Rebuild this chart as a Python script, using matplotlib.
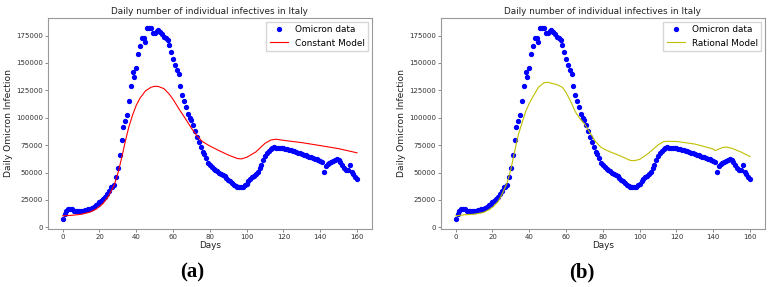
import matplotlib
matplotlib.use('Agg')
import matplotlib.pyplot as plt

# observed daily infections, day 0..160
days = list(range(161))
omicron = [
    7600, 12500, 14500, 16300, 16800, 16500, 14500, 14600, 14800, 15300,
    15000, 15200, 15500, 16000, 16500, 17000, 17800, 18500, 20000, 21500,
    23000, 24000, 25500, 27500, 30000, 33000, 36500, 36800, 38500, 45600,
    54500, 66000, 79700, 91900, 97400, 102500, 115600, 129000, 142100, 137000,
    145000, 158000, 165500, 172500, 173000, 169000, 182000, 181500, 181500, 177000,
    177700, 179000, 180000, 178000, 176000, 174000, 173000, 171000, 166000, 160000,
    154000, 148500, 144000, 140000, 129000, 121000, 115000, 109500, 103500, 100000,
    97500, 93000, 87500, 82000, 78000, 73500, 69000, 66500, 63000, 59000,
    56500, 55000, 53000, 52000, 51000, 50000, 49000, 47800, 46500, 45000,
    43500, 42000, 40500, 39000, 38000, 37000, 36500, 36500, 37000, 38500,
    40000, 42000, 44000, 45800, 47300, 48500, 50200, 53900, 57200, 61200,
    65400, 68200, 70000, 71500, 72500, 73000, 72800, 72700, 72500, 72300,
    72100, 71800, 71500, 71000, 70500, 70000, 69400, 68800, 68200, 67600,
    67000, 66400, 65700, 65100, 64500, 63900, 63300, 62700, 62100, 61200,
    60300, 59300, 50500, 56000, 57500, 59000, 59800, 60300, 61200, 62000,
    61200, 59600, 57200, 54500, 52600, 52000, 56600, 50800, 48700, 46300,
    43800,
]

# constant model curve
const_days = [0, 5, 10, 15, 18, 20, 22, 25, 28, 30, 32, 34, 36, 38, 40, 42, 45, 48, 50,
              52, 55, 58, 60, 63, 66, 70, 73, 76, 80, 85, 90, 95, 97, 100, 105, 110,
              113, 116, 120, 130, 140, 150, 160]
const_model = [10500, 11000, 11900, 14000, 16500, 18900, 21900, 28600, 38600, 49300,
               63000, 78200, 91900, 102500, 111400, 117800, 124500, 127800, 128700,
               128500, 126600, 121400, 116800, 108600, 101000, 90400, 83400, 78200,
               74200, 70000, 66000, 62800, 62400, 63900, 68800, 76700, 79600, 80400,
               79400, 77300, 74600, 71800, 68000]

# rational model curve
rat_days = [0, 5, 10, 15, 18, 20, 23, 25, 28, 30, 32, 34, 36, 38, 40, 42, 45, 48, 50,
            52, 55, 58, 60, 63, 65, 67, 70, 73, 76, 79, 82, 85, 90, 95, 97, 100, 105,
            110, 113, 115, 120, 130, 140, 141, 145, 147, 150, 155, 160]
rat_model = [10500, 11500, 12000, 13500, 16000, 18300, 23400, 29500, 40800, 53000,
             69000, 84300, 95000, 105600, 113200, 119300, 127800, 132000, 132400,
             131500, 130200, 127800, 123000, 113200, 105600, 100400, 94300, 86400,
             78200, 73000, 70300, 68200, 64800, 61000, 60800, 62000, 67800,
             75200, 78200, 78500, 78400, 76000, 71500, 70000, 72800, 73300, 72200,
             68800, 64500]

panels = [
    ('Constant Model', const_days, const_model, 'red', 0.0623, '(a)', 0.249),
    ('Rational Model', rat_days, rat_model, '#bfbf00', 0.5727, '(b)', 0.756),
]

fig = plt.figure(figsize=(7.7, 2.87), dpi=100)

for name, mdays, mvals, col, left, cap, capx in panels:
    ax = fig.add_axes([left, 0.2021, 0.4205, 0.7352])
    ax.plot(days, omicron, 'o', color='blue', markersize=2.8, label='Omicron data')
    ax.plot(mdays, mvals, color=col, linewidth=0.8, label=name)
    ax.set_xlim(-8, 168)
    ax.set_ylim(-1500, 191000)
    ax.set_xticks(range(0, 161, 20))
    ax.set_yticks(range(0, 175001, 25000))
    ax.tick_params(labelsize=5, length=2, width=0.6, color='#777777',
                   labelcolor='#333333', pad=1.5)
    for sp in ax.spines.values():
        sp.set_color('#999999')
        sp.set_linewidth(0.8)
    ax.set_title('Daily number of individual infectives in Italy', fontsize=6.4,
                 color='#222222', pad=3)
    ax.set_xlabel('Days', fontsize=6.4, color='#222222', labelpad=1)
    ax.set_ylabel('Daily Omicron Infection', fontsize=6.6, color='#222222', labelpad=2)
    ax.legend(loc='upper right', fontsize=6.4, numpoints=1, fancybox=False,
              edgecolor='#cccccc', borderaxespad=0.4, handlelength=2.0)
    fig.text(capx, 0.052, cap, ha='center', va='center', fontsize=15,
             fontweight='bold', family='Liberation Serif')

fig.savefig('out.png', dpi=100)
